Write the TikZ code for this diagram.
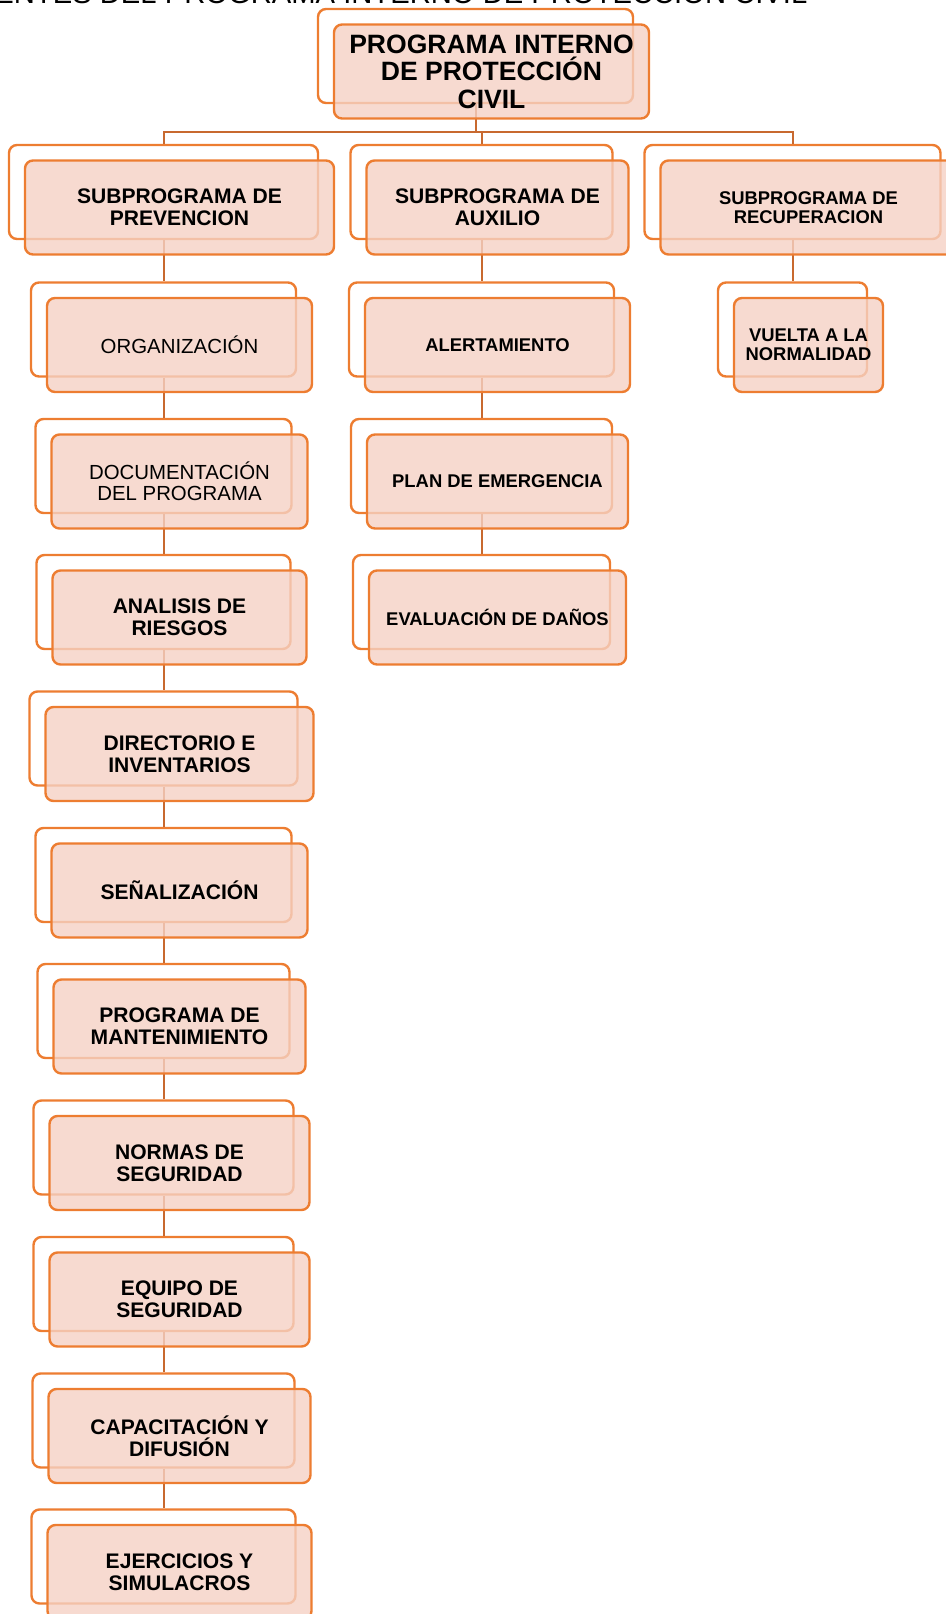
\documentclass[tikz,border=0pt]{standalone}
\usepackage{fontspec}
\setmainfont{Liberation Sans}
\usepackage{tikz}
\definecolor{Orange}{HTML}{ED7D31}
\definecolor{Rust}{HTML}{C8692F}
\definecolor{Blush}{HTML}{F5D1C4}

\begin{document}
\begin{tikzpicture}[
    x=0.75pt,y=-0.75pt,
    frame/.style={draw=Orange,line width=1.8pt,rounded corners=6pt,minimum height=70.5pt,inner sep=0pt},
    card/.style={frame,fill=Blush,fill opacity=0.8,text opacity=1,align=center},
    oneline/.style={text depth=0pt},
    link/.style={draw=Rust,line width=1.5pt},
    head/.style={font=\fontsize{19.9}{20.6}\selectfont\bfseries},
    big/.style={font=\fontsize{15.8}{16.2}\selectfont\bfseries},
    plain/.style={font=\fontsize{15.3}{16}\selectfont},
    small/.style={font=\fontsize{13.8}{14}\selectfont\bfseries}
  ]
    \useasboundingbox (0,0) rectangle (946,1614);
    \node[anchor=base east,font=\fontsize{21.9}{22}\selectfont] (title) at (812,3)
      {ENTES DEL PROGRAMA INTERNO DE PROTECCIÓN CIVIL};
    % back frames
    \node[frame,minimum width=236.25pt] (prog) at (475.5,56) {};
    \node[frame,minimum width=231.75pt] (prev) at (163.5,192) {};
    \node[frame,minimum width=196.5pt] (aux) at (481.5,192) {};
    \node[frame,minimum width=222pt] (recu) at (792.5,192) {};
    \node[frame,minimum width=198.75pt] (org) at (163.5,329.5) {};
    \node[frame,minimum width=192pt] (doc) at (163.5,466) {};
    \node[frame,minimum width=190.5pt] (ana) at (163.5,602) {};
    \node[frame,minimum width=201pt] (dir) at (163.5,738.5) {};
    \node[frame,minimum width=192pt] (sen) at (163.5,875) {};
    \node[frame,minimum width=189pt] (mant) at (163.5,1011) {};
    \node[frame,minimum width=195pt] (norm) at (163.5,1147.5) {};
    \node[frame,minimum width=195pt] (equi) at (163.5,1284) {};
    \node[frame,minimum width=196.5pt] (cap) at (163.5,1420.5) {};
    \node[frame,minimum width=198pt] (ejer) at (163.5,1556.5) {};
    \node[frame,minimum width=198.75pt] (alert) at (481.5,329.5) {};
    \node[frame,minimum width=195.75pt] (plan) at (481.5,466) {};
    \node[frame,minimum width=192.75pt] (eval) at (481.5,602) {};
    \node[frame,minimum width=111.75pt] (vuel) at (792.5,329.5) {};
    % connectors
    \coordinate (bus) at (0,132);
    \draw[link] (prog.south) -- (prog.south|-bus);
    \draw[link] (prev.north) |- (bus-|recu.north) -- (recu.north);
    \draw[link] (aux.north) -- (aux.north|-bus);
    \draw[link] (prev) -- (org); \draw[link] (org) -- (doc); \draw[link] (doc) -- (ana);
    \draw[link] (ana) -- (dir); \draw[link] (dir) -- (sen); \draw[link] (sen) -- (mant);
    \draw[link] (mant) -- (norm); \draw[link] (norm) -- (equi); \draw[link] (equi) -- (cap);
    \draw[link] (cap) -- (ejer);
    \draw[link] (aux) -- (alert); \draw[link] (alert) -- (plan); \draw[link] (plan) -- (eval);
    \draw[link] (recu) -- (vuel);
    % front cards
    \node[card,head,minimum width=236.25pt] (prog-t) at ([shift={(16,15.5)}]prog.center) {PROGRAMA INTERNO\\DE PROTECCIÓN\\CIVIL};
    \node[card,big,minimum width=231.75pt] (prev-t) at ([shift={(16,15.5)}]prev.center) {SUBPROGRAMA DE\\PREVENCION};
    \node[card,big,minimum width=196.5pt] (aux-t) at ([shift={(16,15.5)}]aux.center) {SUBPROGRAMA DE\\AUXILIO};
    \node[card,small,minimum width=222pt] (recu-t) at ([shift={(16,15.5)}]recu.center) {SUBPROGRAMA DE\\RECUPERACION};
    \node[card,plain,oneline,minimum width=198.75pt] (org-t) at ([shift={(16,15.5)}]org.center) {ORGANIZACIÓN};
    \node[card,plain,minimum width=192pt] (doc-t) at ([shift={(16,15.5)}]doc.center) {DOCUMENTACIÓN\\DEL PROGRAMA};
    \node[card,big,minimum width=190.5pt] (ana-t) at ([shift={(16,15.5)}]ana.center) {ANALISIS DE\\RIESGOS};
    \node[card,big,minimum width=201pt] (dir-t) at ([shift={(16,15.5)}]dir.center) {DIRECTORIO E\\INVENTARIOS};
    \node[card,big,oneline,minimum width=192pt] (sen-t) at ([shift={(16,15.5)}]sen.center) {SEÑALIZACIÓN};
    \node[card,big,minimum width=189pt] (mant-t) at ([shift={(16,15.5)}]mant.center) {PROGRAMA DE\\MANTENIMIENTO};
    \node[card,big,minimum width=195pt] (norm-t) at ([shift={(16,15.5)}]norm.center) {NORMAS DE\\SEGURIDAD};
    \node[card,big,minimum width=195pt] (equi-t) at ([shift={(16,15.5)}]equi.center) {EQUIPO DE\\SEGURIDAD};
    \node[card,big,minimum width=196.5pt] (cap-t) at ([shift={(16,15.5)}]cap.center) {CAPACITACIÓN Y\\DIFUSIÓN};
    \node[card,big,minimum width=198pt] (ejer-t) at ([shift={(16,15.5)}]ejer.center) {EJERCICIOS Y\\SIMULACROS};
    \node[card,small,oneline,minimum width=198.75pt] (alert-t) at ([shift={(16,15.5)}]alert.center) {ALERTAMIENTO};
    \node[card,small,oneline,minimum width=195.75pt] (plan-t) at ([shift={(16,15.5)}]plan.center) {PLAN DE EMERGENCIA};
    \node[card,small,oneline,minimum width=192.75pt] (eval-t) at ([shift={(16,15.5)}]eval.center) {EVALUACIÓN DE DAÑOS};
    \node[card,small,minimum width=111.75pt] (vuel-t) at ([shift={(16,15.5)}]vuel.center) {VUELTA A LA\\NORMALIDAD};
  \end{tikzpicture}
\end{document}
